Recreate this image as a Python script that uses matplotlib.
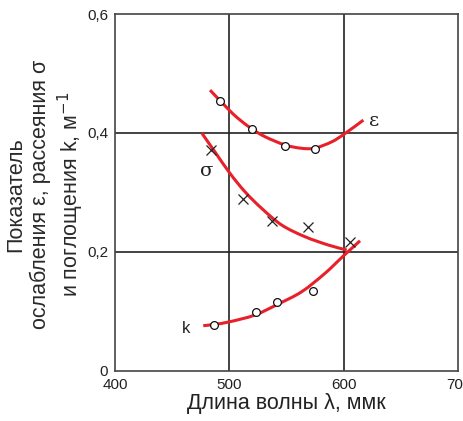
import matplotlib
matplotlib.use("Agg")
import matplotlib.pyplot as plt
from matplotlib.path import Path
from matplotlib.patches import PathPatch

plt.rcParams['font.family'] = ['Liberation Sans', 'DejaVu Sans']

# ---- data ----
eps_pts_x = [491.7, 519.9, 548.5, 574.7]
eps_pts_y = [0.454, 0.406, 0.378, 0.373]
eps_curve_x = [483.0, 500.4, 509.2, 519.4, 531.0, 548.5, 563.1, 574.7, 589.3, 600.9, 616.9]
eps_curve_y = [0.472, 0.437, 0.4217, 0.407, 0.3936, 0.3797, 0.3741, 0.3745, 0.385, 0.399, 0.4215]

sig_pts_x = [483.8, 512.1, 536.8, 568.8, 605.5]
sig_pts_y = [0.372, 0.288, 0.251, 0.241, 0.217]
sig_curve_x = [475.7, 487.3, 500.4, 513.5, 528.1, 545.6, 565.9, 586.3, 602.4]
sig_curve_y = [0.400, 0.368, 0.332, 0.301, 0.273, 0.245, 0.2254, 0.2114, 0.203]

k_pts_x = [486.5, 522.9, 541.2, 573.2]
k_pts_y = [0.077, 0.0987, 0.116, 0.134]
k_curve_x = [477.1, 487.3, 500.4, 522.3, 542.6, 563.1, 583.4, 599.4, 614.0]
k_curve_y = [0.0757, 0.078, 0.0824, 0.0937, 0.1122, 0.1329, 0.1638, 0.1929, 0.2185]

x_ticks = [400, 500, 600, 700]
y_ticks = [0, 0.2, 0.4, 0.6]
y_tick_labels = ['0', '0,2', '0,4', '0,6']


def smooth_path(xs, ys):
    """Catmull-Rom style smooth path through the listed points (drawn as Bezier)."""
    pts = list(zip(xs, ys))
    n = len(pts)
    verts = [pts[0]]
    codes = [Path.MOVETO]
    for i in range(n - 1):
        p0 = pts[i - 1] if i > 0 else pts[i]
        p1 = pts[i]
        p2 = pts[i + 1]
        p3 = pts[i + 2] if i + 2 < n else pts[i + 1]
        c1 = (p1[0] + (p2[0] - p0[0]) / 6, p1[1] + (p2[1] - p0[1]) / 6)
        c2 = (p2[0] - (p3[0] - p1[0]) / 6, p2[1] - (p3[1] - p1[1]) / 6)
        verts += [c1, c2, p2]
        codes += [Path.CURVE4] * 3
    return Path(verts, codes)


fig = plt.figure(figsize=(4.64, 4.21), dpi=100)
ax = fig.add_axes([115/464, 1-370.7/421, (458.5-115)/464, (370.7-14)/421])
ax.set_xlim(400, 700)
ax.set_ylim(0, 0.6)

grid_c = '#222222'
for v in [500, 600]:
    ax.axvline(v, color=grid_c, lw=1.2, zorder=1)
for v in [0.2, 0.4]:
    ax.axhline(v, color=grid_c, lw=1.2, zorder=1)
for s in ax.spines.values():
    s.set_color('#444444')
    s.set_linewidth(1.2)

red = '#e8202a'
for cx, cy in [(eps_curve_x, eps_curve_y), (sig_curve_x, sig_curve_y), (k_curve_x, k_curve_y)]:
    ax.add_patch(PathPatch(smooth_path(cx, cy), facecolor='none', edgecolor=red,
                           lw=2.2, zorder=3, capstyle='butt'))

ax.plot(eps_pts_x, eps_pts_y, 'o', ms=5.6, mfc='white', mec='#111111', mew=0.9, zorder=4)
ax.plot(k_pts_x, k_pts_y, 'o', ms=5.6, mfc='white', mec='#111111', mew=0.9, zorder=4)
ax.plot(sig_pts_x, sig_pts_y, 'x', ms=6.5, color='#222222', mew=0.9, zorder=4)

ax.text(626, 0.42, 'ε', fontsize=14, family=['DejaVu Serif'], color='#222222', va='center', ha='center')
ax.text(480, 0.336, 'σ', fontsize=14, family=['DejaVu Serif'], color='#222222', va='center', ha='center')
ax.text(462.5, 0.071, 'k', fontsize=12, color='#222222', va='center', ha='center')

ax.set_xticks(x_ticks)
ax.set_yticks(y_ticks)
ax.set_yticklabels(y_tick_labels)
ax.tick_params(length=0, labelsize=11, labelcolor='#222222')
ax.tick_params(axis='x', pad=5)
ax.tick_params(axis='y', pad=5)

ax.set_xlabel('Длина волны λ, ммк', fontsize=15.5, color='#222222', labelpad=1)
ax.set_ylabel('Показатель\nослабления ε, рассеяния σ\nи поглощения k, м$^{-1}$',
              fontsize=15.5, color='#2a2a2a', linespacing=1.22)
ax.yaxis.set_label_coords(-0.083, 0.495)

fig.savefig('out.png', dpi=100)
